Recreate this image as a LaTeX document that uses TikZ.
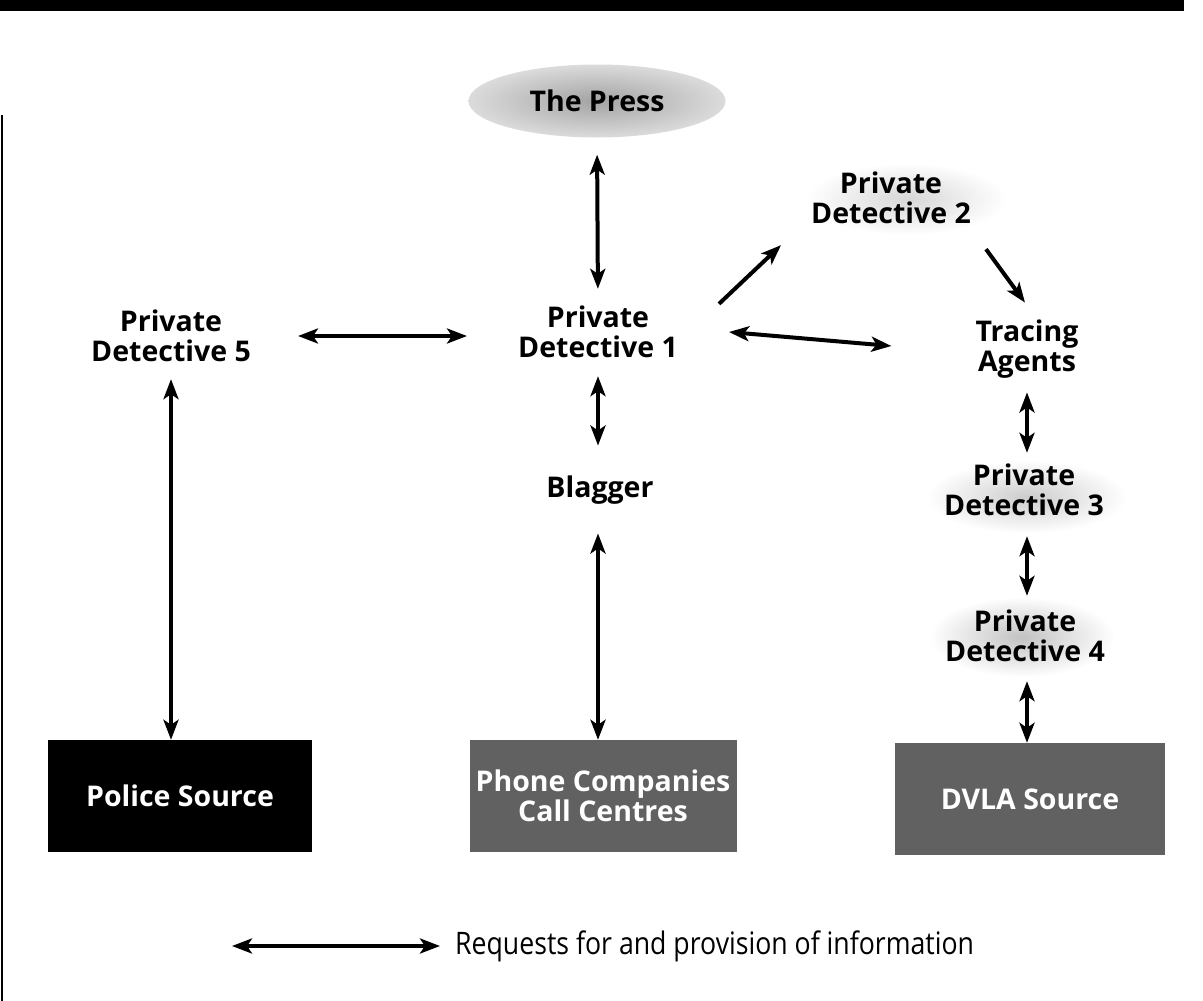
\documentclass[tikz,border=0pt]{standalone}
\usepackage{fontspec}
\setmainfont{Open Sans}
\newfontfamily\keyfont[FakeStretch=0.86]{Open Sans}
\usetikzlibrary{arrows.meta,shapes.geometric}

\begin{document}
\begin{tikzpicture}[x=1pt,y=-1pt,
    lbl/.style={font=\bfseries\fontsize{28.5}{30}\selectfont,align=center,inner sep=0pt},
    haze/.style={ellipse,inner sep=0pt,inner color=#1,outer color=white},
    src/.style={lbl,text=white,minimum height=112pt},
    info/.style={line width=4pt,{Stealth[length=20pt,width=15pt,inset=5pt]}-{Stealth[length=20pt,width=15pt,inset=5pt]}},
    oneway/.style={line width=4pt,-{Stealth[length=20pt,width=15pt,inset=5pt]}}]
    \useasboundingbox (0,0) rectangle (1203,1001);
    \fill (0,0) rectangle (1184,11);
    \draw[line width=2pt] (2,115) -- (2,1001);

    % shaded backgrounds
    \node[haze=black!16,minimum width=200pt,minimum height=72pt] (pd2bg) at (907,199) {};
    \node[haze=black!20,minimum width=200pt,minimum height=73pt] (pd3bg) at (1027,497) {};
    \node[haze=black!24,minimum width=185pt,minimum height=80pt] (pd4bg) at (1022,637) {};

    \node[lbl,ellipse,inner sep=0pt,inner color=black!36,outer color=black!14,minimum width=257pt,minimum height=73pt] (press) at (597,101) {The Press};
    \node[lbl] (pd1) at (598,332) {Private\\Detective 1};
    \node[lbl] (pd2) at (891,198) {Private\\Detective 2};
    \node[lbl] (pd5) at (171,336) {Private\\Detective 5};
    \node[lbl] (tracing) at (1027,349) {Tracing\\Agents};
    \node[lbl] (blagger) at (600,490) {Blagger};
    \node[lbl] (pd3) at (1024,490) {Private\\Detective 3};
    \node[lbl] (pd4) at (1025,636) {Private\\Detective 4};

    \node[src,fill=black,minimum width=264pt] (police) at (180,796) {Police Source};
    \node[src,fill=black!62,minimum width=267pt] (phone) at (603,796) {Phone Companies\\Call Centres};
    \node[src,fill=black!62,minimum width=270pt] (dvla) at (1030,799) {DVLA Source};

    \draw[info,shorten <=17pt,shorten >=17pt] (press.south) -- (pd1.north);
    \draw[info,shorten <=47pt,shorten >=51pt] (pd5.east) -- (pd5.east -| pd1.west);
    \draw[oneway] ([shift={(41,-2)}]pd1.north east) -- ([shift={(-30,21)}]pd2.south west);
    \draw[oneway] ([shift={(15,25)}]pd2.south east) -- ([shift={(-2,-17)}]tracing.north);
    \draw[info] ([shift={(51,0)}]pd1.east) -- ([shift={(-84,-3)}]tracing.west);
    \draw[info,shorten <=18pt,shorten >=30pt] (pd1.south) -- (pd1.south |- blagger.north);
    \draw[info,shorten <=29pt] (pd1.south |- blagger.south) -- (pd1.south |- phone.north);
    \draw[info,shorten <=17pt] (pd5.south) -- (pd5.south |- police.north);
    \draw[info,shorten <=14pt,shorten >=11pt] (tracing.south) -- (tracing.south |- pd3.north);
    \draw[info,shorten <=20pt,shorten >=14pt] (tracing.south |- pd3.south) -- (tracing.south |- pd4.north);
    \draw[info,shorten <=19pt] (tracing.south |- pd4.south) -- (tracing.south |- dvla.north);

    % key
    \node[anchor=west,inner sep=0pt,font=\keyfont\fontsize{31}{34}\selectfont] (legend) at (455,946) {Requests for and provision of information};
    \coordinate (key) at (232,946);
    \draw[info,shorten >=15pt] (key) -- (legend.west);
\end{tikzpicture}
\end{document}
